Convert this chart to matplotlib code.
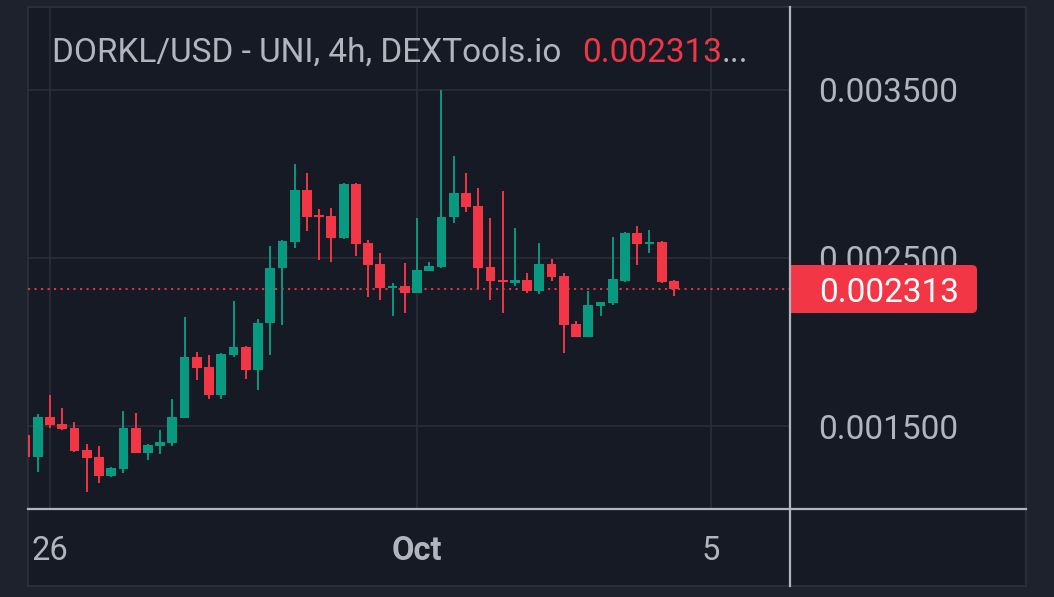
"""DORKL/USD 4h candlestick chart, dark theme"""
import numpy as np
import matplotlib
matplotlib.use('Agg')
import matplotlib.pyplot as plt
from matplotlib.patches import Rectangle, FancyBboxPatch
from matplotlib.lines import Line2D
from matplotlib.transforms import IdentityTransform

plt.rcParams['font.family'] = ['Roboto', 'DejaVu Sans']

# 4h candles, the first one starts Sep 25 16:00
opens = [0.001447, 0.001316, 0.001554, 0.001512, 0.001488, 0.001357, 0.001316, 0.001203,
         0.001244, 0.001488, 0.001339, 0.001381, 0.001399, 0.001548, 0.001911, 0.001851,
         0.001685, 0.001923, 0.001970, 0.001833, 0.002113, 0.002441, 0.002595, 0.002905,
         0.002756, 0.002750, 0.002619, 0.002940, 0.002589, 0.002464, 0.002321, 0.002333,
         0.002292, 0.002423, 0.002446, 0.002744, 0.002887, 0.002810, 0.002446, 0.002369,
         0.002351, 0.002369, 0.002304, 0.002464, 0.002393, 0.002107, 0.002030, 0.002214,
         0.002232, 0.002363, 0.002649, 0.002583, 0.002595, 0.002363]
highs = [0.001476, 0.001572, 0.001685, 0.001607, 0.001524, 0.001393, 0.001381, 0.001256,
         0.001589, 0.001577, 0.001390, 0.001476, 0.001661, 0.002149, 0.001941, 0.001923,
         0.001935, 0.002244, 0.001976, 0.002137, 0.002571, 0.002605, 0.003060, 0.003006,
         0.002792, 0.002798, 0.002946, 0.002946, 0.002607, 0.002530, 0.002351, 0.002470,
         0.002738, 0.002476, 0.003500, 0.003107, 0.003006, 0.002917, 0.002738, 0.002899,
         0.002679, 0.002411, 0.002589, 0.002494, 0.002411, 0.002125, 0.002304, 0.002240,
         0.002625, 0.002655, 0.002690, 0.002667, 0.002601, 0.002369]
lows = [0.001298, 0.001226, 0.001488, 0.001476, 0.001345, 0.001107, 0.001161, 0.001197,
        0.001220, 0.001339, 0.001298, 0.001333, 0.001381, 0.001548, 0.001774, 0.001661,
        0.001661, 0.001911, 0.001780, 0.001714, 0.001923, 0.002101, 0.002560, 0.002661,
        0.002488, 0.002476, 0.002613, 0.002512, 0.002268, 0.002250, 0.002155, 0.002173,
        0.002290, 0.002420, 0.002440, 0.002708, 0.002774, 0.002316, 0.002250, 0.002173,
        0.002333, 0.002292, 0.002286, 0.002363, 0.001935, 0.002027, 0.002027, 0.002155,
        0.002220, 0.002357, 0.002458, 0.002530, 0.002351, 0.002274]
closes = [0.001316, 0.001554, 0.001506, 0.001482, 0.001351, 0.001310, 0.001203, 0.001250,
          0.001488, 0.001339, 0.001387, 0.001405, 0.001554, 0.001911, 0.001845, 0.001685,
          0.001929, 0.001970, 0.001833, 0.002113, 0.002441, 0.002601, 0.002905, 0.002744,
          0.002744, 0.002619, 0.002940, 0.002583, 0.002458, 0.002321, 0.002333, 0.002292,
          0.002429, 0.002452, 0.002744, 0.002887, 0.002804, 0.002441, 0.002363, 0.002357,
          0.002369, 0.002304, 0.002464, 0.002387, 0.002101, 0.002030, 0.002220, 0.002238,
          0.002375, 0.002649, 0.002583, 0.002595, 0.002357, 0.002313]

last_price = 0.002313
price_ticks = [0.0015, 0.0025, 0.0035]
date_tick_pos = [2, 32, 56]          # candle index of Sep 26, Oct 1, Oct 5
date_tick_labels = ['26', 'Oct', '5']
title = 'DORKL/USD - UNI, 4h, DEXTools.io'

UP = '#089981'
DOWN = '#f23645'
TEXT = '#b2b5be'
GRID = '#2a2e39'

W, H = 1054, 597
fig = plt.figure(figsize=(W / 100, H / 100), dpi=100, facecolor='#1e222d')


def fx(x):
    return x / W


def fy(y):
    return 1 - y / H


# chart panel background
fig.patches.append(Rectangle((fx(28), fy(586)), fx(1026) - fx(28), fy(7) - fy(586),
                             transform=fig.transFigure, facecolor='#161a25',
                             edgecolor=GRID, lw=1.5, zorder=-1))

ax = fig.add_axes([fx(28), fy(509), fx(790) - fx(28), fy(7) - fy(509)])
ax.set_facecolor('none')
ax.set_xlim(0.2, 62.49)
ax.set_ylim(0.001006, 0.003994)

o = np.array(opens)
c = np.array(closes)
x = np.arange(len(o))
colors = [UP if cc >= oo else DOWN for oo, cc in zip(o, c)]

# wicks and bodies
ax.vlines(x, lows, highs, colors=colors, lw=1.4, zorder=3)
ax.bar(x, np.maximum(np.abs(c - o), 0.000008), bottom=np.minimum(o, c),
       width=0.8, color=colors, lw=0, zorder=4)

# last price line
ax.axhline(last_price, color=DOWN, lw=1.3, dashes=(1.2, 2.4), zorder=2)

ax.set_yticks(price_ticks)
ax.set_yticklabels([f'{v:.6f}' for v in price_ticks])
ax.set_xticks(date_tick_pos)
labels = ax.set_xticklabels(date_tick_labels)
labels[1].set_fontweight('bold')
ax.yaxis.tick_right()
ax.tick_params(axis='y', length=0, pad=20, labelsize=24, labelcolor=TEXT)
ax.tick_params(axis='x', length=0, pad=18.5, labelsize=23.5, labelcolor=TEXT)
ax.grid(True, color=GRID, lw=1.2, zorder=0)
ax.set_axisbelow(True)
for s in ax.spines.values():
    s.set_visible(False)

# separators between chart and axes areas
fig.add_artist(Line2D([fx(790), fx(790)], [fy(7), fy(586)], transform=fig.transFigure,
                      color=TEXT, lw=1.6, zorder=5))
fig.add_artist(Line2D([fx(28), fx(1026)], [fy(509), fy(509)], transform=fig.transFigure,
                      color=TEXT, lw=1.6, zorder=5))

# price tag on the right scale
fig.patches.append(FancyBboxPatch((791, H - 313), 186, 48,
                                  boxstyle='round,pad=0,rounding_size=5',
                                  transform=IdentityTransform(), facecolor=DOWN,
                                  edgecolor='none', zorder=2))
fig.patches.append(Rectangle((790, H - 313), 12, 48, transform=IdentityTransform(),
                             facecolor=DOWN, edgecolor='none', zorder=2))
fig.text(fx(819), fy(289.5), f'{last_price:.6f}', color='white', fontsize=24,
         ha='left', va='center_baseline', zorder=6)

# legend line at the top
fig.text(fx(52), fy(62), title, color=TEXT, fontsize=24, ha='left', va='baseline')
fig.text(fx(582), fy(62), f'{last_price:.6f}', color=DOWN, fontsize=24,
         ha='left', va='baseline')
fig.text(fx(722), fy(62), '...', color=TEXT, fontsize=24, ha='left', va='baseline')

fig.savefig('out.png', dpi=100, facecolor=fig.get_facecolor())
